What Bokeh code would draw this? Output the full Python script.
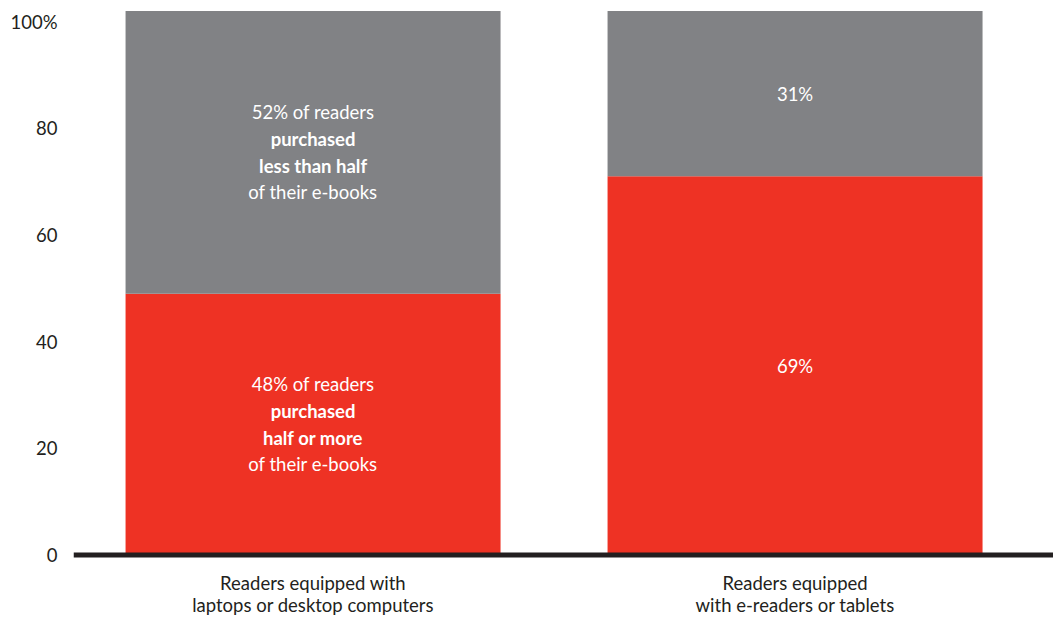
from bokeh.plotting import figure
from bokeh.models import Range1d, FixedTicker, Span, ColumnDataSource
from bokeh.core.properties import value
from bokeh.embed import file_html
from bokeh.resources import INLINE

# ---- data ----
categories = ["Readers equipped with\nlaptops or desktop computers",
              "Readers equipped\nwith e-readers or tablets"]
half_or_more = [49, 71]      # red segment
less_than_half = [53, 31]    # gray segment
y_ticks = [0, 20, 40, 60, 80, 100]
y_tick_labels = ["0", "20", "40", "60", "80", "100%"]

red_label_lines = [
    [("48% of readers", False), ("purchased", True), ("half or more", True), ("of their e-books", False)],
    [("69%", False)],
]
gray_label_lines = [
    [("52% of readers", False), ("purchased", True), ("less than half", True), ("of their e-books", False)],
    [("31%", False)],
]

RED = "#EE3224"
GRAY = "#818285"
DARK = "#231F20"
FONT = "Lato"
FS = "18.5px"

x_pos = [0.5, 1.5]
bar_w = 0.778

p = figure(width=1053, height=617, output_backend="svg", toolbar_location=None,
           x_range=Range1d(0.003, 2.0362), y_range=Range1d(-11.72, 102.1),
           min_border_left=73, min_border_right=0, min_border_top=10, min_border_bottom=0)
p.outline_line_color = None
p.xgrid.grid_line_color = None
p.ygrid.grid_line_color = None
p.background_fill_color = "white"
p.border_fill_color = "white"
p.xaxis.visible = False

bottoms2 = half_or_more
tops2 = [a + b for a, b in zip(half_or_more, less_than_half)]
p.vbar(x=x_pos, width=bar_w, bottom=0, top=half_or_more, fill_color=RED, line_color=None)
p.vbar(x=x_pos, width=bar_w, bottom=bottoms2, top=tops2, fill_color=GRAY, line_color=None)

p.add_layout(Span(location=0, dimension="width", line_color=DARK, line_width=5, level="overlay"))

# in-bar labels
LINE_SP = 26.7

def add_lines(lines_per_bar, centers, color, base_offset=0.0, spacing=LINE_SP, centered=True):
    xs, ys, txt, offs, bold = [], [], [], [], []
    for x, c, lines in zip(x_pos, centers, lines_per_bar):
        n = len(lines)
        for i, (t, b) in enumerate(lines):
            xs.append(x)
            ys.append(c)
            txt.append(t)
            shift = (i - (n - 1) / 2) * spacing if centered else i * spacing
            offs.append(base_offset + shift)
            bold.append("bold" if b else "normal")
    src = ColumnDataSource(dict(x=xs, y=ys, text=txt, yo=offs, fs=bold))
    p.text(x="x", y="y", text="text", y_offset="yo", text_font_style="fs", source=src,
           text_color=color, text_font=value(FONT), text_font_size=FS,
           text_align="center", text_baseline="middle")

red_centers = [h / 2 for h in half_or_more]
gray_centers = [(b + t) / 2 for b, t in zip(bottoms2, tops2)]
add_lines(red_label_lines, red_centers, "white")
add_lines(gray_label_lines, gray_centers, "white")

# category labels below the baseline
cat_lines = [[(s, False) for s in c.split("\n")] for c in categories]
add_lines(cat_lines, [0, 0], DARK, base_offset=28.5, spacing=22, centered=False)

# y axis
p.yaxis.ticker = FixedTicker(ticks=y_ticks)
p.yaxis.major_label_overrides = {t: l for t, l in zip(y_ticks, y_tick_labels)}
p.yaxis.axis_line_color = None
p.yaxis.major_tick_line_color = None
p.yaxis.minor_tick_line_color = None
p.yaxis.major_tick_out = 0
p.yaxis.major_tick_in = 0
p.yaxis.major_label_standoff = 16
p.yaxis.major_label_text_font = FONT
p.yaxis.major_label_text_font_size = FS
p.yaxis.major_label_text_color = DARK

open("out.html", "w").write(file_html(p, INLINE))
